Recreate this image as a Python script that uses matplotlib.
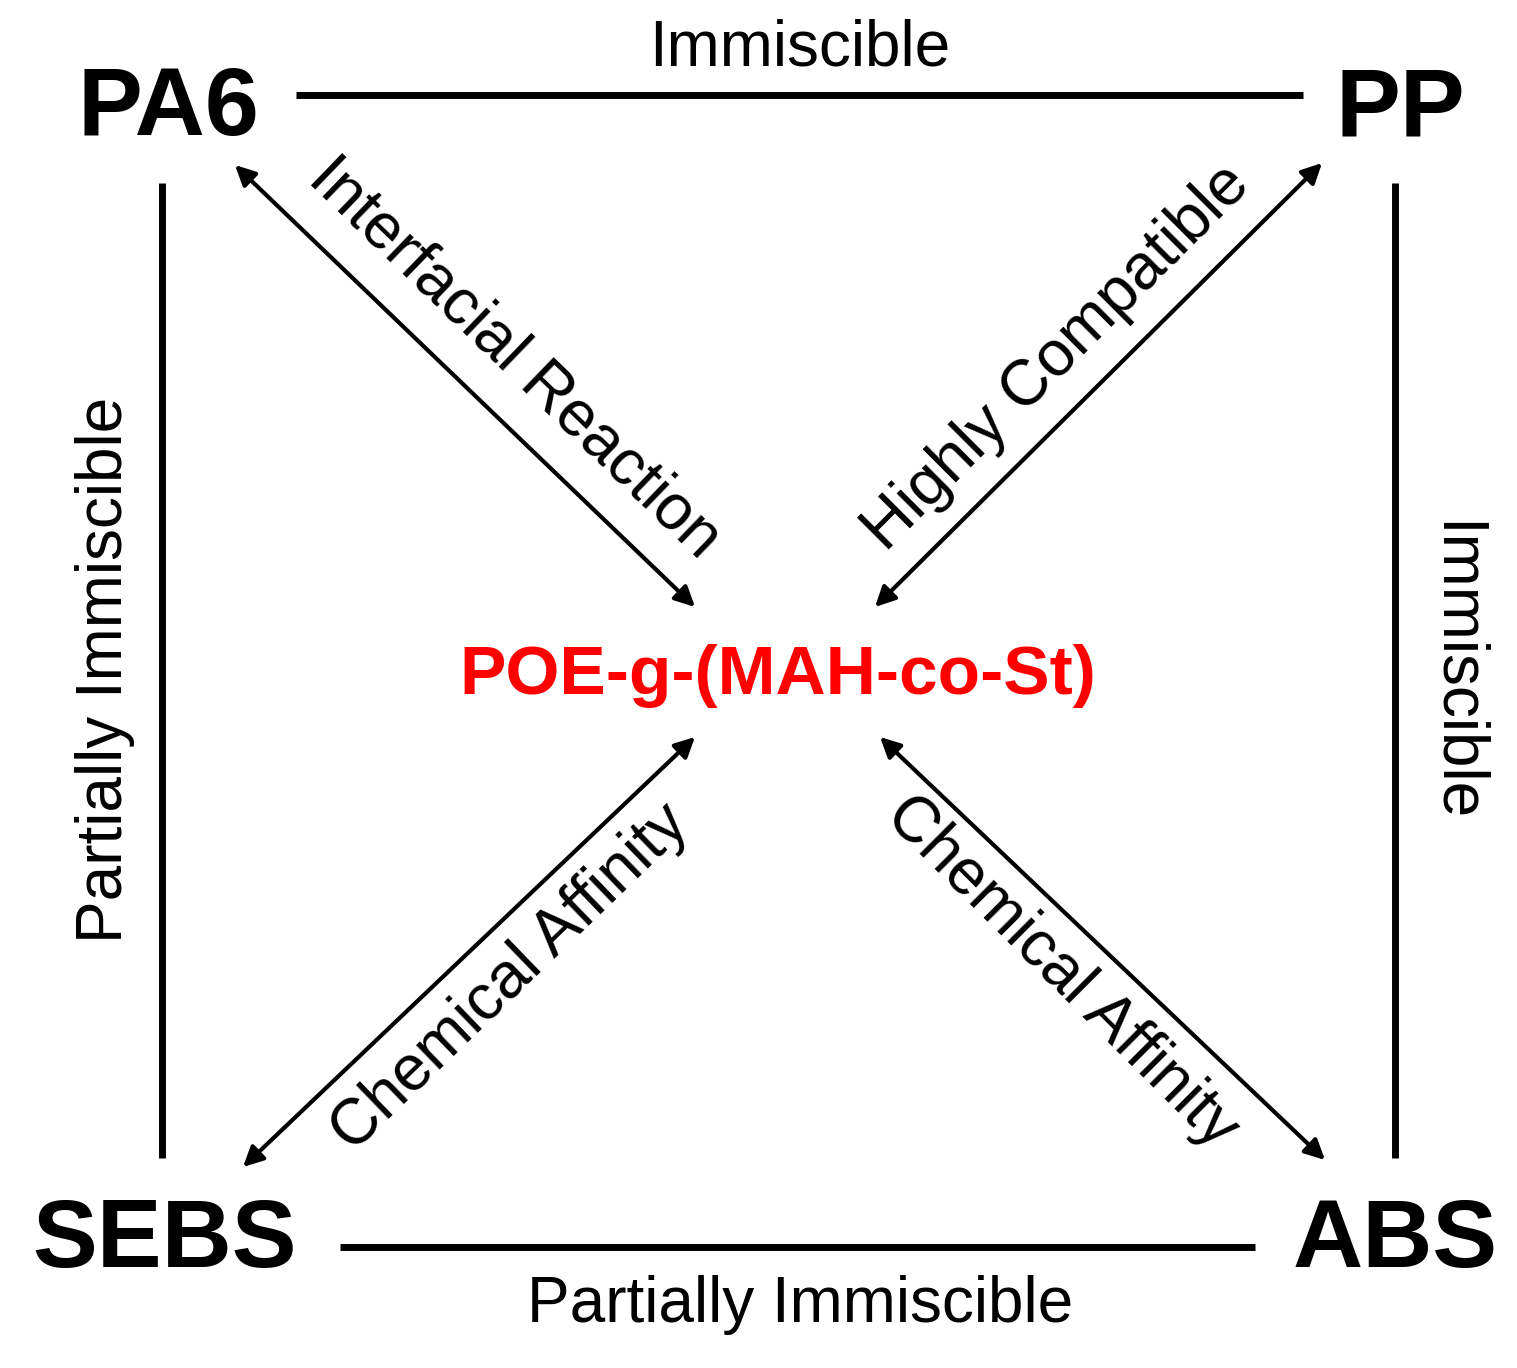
import matplotlib.pyplot as plt

plt.rcParams['font.family'] = ['Liberation Sans', 'DejaVu Sans']

# nodes (pixel layout of the scheme)
nodes = ['PA6', 'PP', 'SEBS', 'ABS']
node_xy = [(168, 110), (1400, 110), (165, 1242), (1395, 1242)]
center_label = 'POE-g-(MAH-co-St)'
center_xy = (778, 676)

# straight connecting lines: (x0, y0, x1, y1, label, label_xy, rotation)
edges = [
    (296, 95, 1303, 95, 'Immiscible', (800, 48), 0),
    (162, 183, 162, 1158, 'Partially Immiscible', (105, 670), 90),
    (1395, 183, 1395, 1158, 'Immiscible', (1455, 672), -90),
    (340, 1247, 1255, 1247, 'Partially Immiscible', (800, 1305), 0),
]

# double arrows to the compatibilizer
arrows = [
    ((235, 165), (695, 607), 'Interfacial Reaction', (515, 358), -44),
    ((1322, 163), (875, 607), 'Highly Compatible', (1057, 358), 45),
    ((243, 1167), (695, 737), 'Chemical Affinity', (510, 978), 44),
    ((1325, 1160), (880, 737), 'Chemical Affinity', (1062, 972), -45),
]

fig = plt.figure(figsize=(15.17, 13.68), dpi=100)
ax = fig.add_axes([0, 0, 1, 1])
ax.set_xlim(0, 1517)
ax.set_ylim(1368, 0)
ax.axis('off')

for name, (x, y) in zip(nodes, node_xy):
    ax.text(x, y, name, fontsize=70, fontweight='bold', ha='center', va='center')

ax.text(*center_xy, center_label, fontsize=50, fontweight='bold', color='#ff0000',
        ha='center', va='center')

for x0, y0, x1, y1, lab, (lx, ly), rot in edges:
    ax.plot([x0, x1], [y0, y1], color='black', lw=5, solid_capstyle='butt')
    ax.text(lx, ly, lab, fontsize=46, ha='center', va='center', rotation=rot,
            rotation_mode='anchor')

for p0, p1, lab, (lx, ly), rot in arrows:
    ax.annotate('', xy=p1, xytext=p0,
                arrowprops=dict(arrowstyle='<|-|>', lw=3, color='black',
                                mutation_scale=30, shrinkA=0, shrinkB=0))
    ax.text(lx, ly, lab, fontsize=46, ha='center', va='center', rotation=rot,
            rotation_mode='anchor')

fig.savefig('out.png', dpi=100, facecolor='white')
